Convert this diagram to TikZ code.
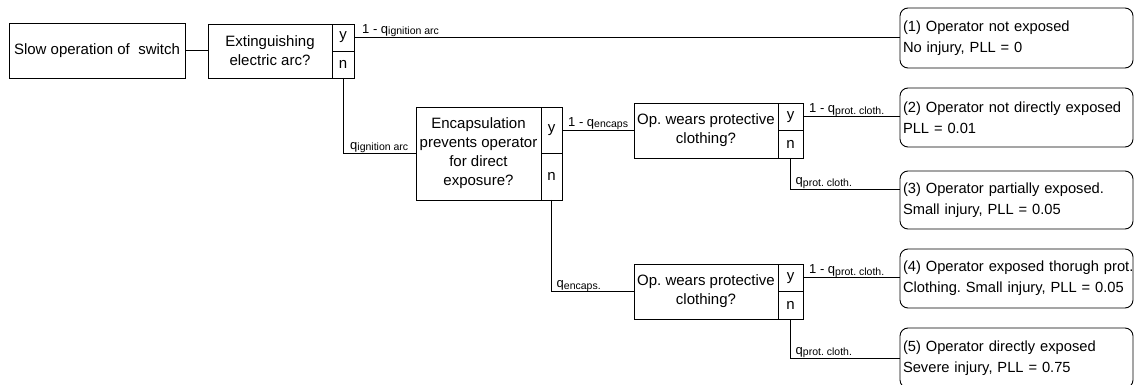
\documentclass[tikz,border=0pt]{standalone}
\usepackage{fontspec}
\setmainfont{Liberation Sans}
\frenchspacing
\newcommand{\qsub}[1]{q\raisebox{-1.5pt}{\fontsize{10.5}{12}\selectfont #1}}
\begin{document}
\begin{tikzpicture}[x=1pt, y=-1pt,
  cell/.style={draw, line width=0.9pt, inner sep=0pt, outer sep=0pt,
    anchor=north west, align=center, font=\fontsize{15}{19}\selectfont},
  outcome/.style={draw, line width=0.9pt, rounded corners=8pt, outer sep=0pt,
    anchor=north west, inner xsep=3pt, inner ysep=0pt, text width=227pt,
    minimum width=233pt, align=left, font=\fontsize{14.7}{21}\selectfont},
  wire/.style={line width=0.9pt},
  lbl/.style={anchor=base west, inner sep=0pt, font=\fontsize{13}{14}\selectfont}]
\useasboundingbox (0,0) rectangle (1136,385);

% start event
\node[cell, minimum width=176, minimum height=55] (slow) at (9,23) {Slow operation of\ \ switch};

% question 1: arc extinguished?
\node[cell, minimum width=124, minimum height=54] (extq) at (208,24) {Extinguishing\\electric arc?};
\node[cell, minimum width=22, minimum height=27] (exty) at (332,24) {y};
\node[cell, minimum width=22, minimum height=27] (extn) at (332,51) {n};

% question 2: encapsulation
\node[cell, minimum width=125, minimum height=93] (encq) at (416,107) {Encapsulation\\prevents operator\\for direct\\exposure?};
\node[cell, minimum width=21, minimum height=46.5] (ency) at (541,107) {y};
\node[cell, minimum width=21, minimum height=46.5] (encn) at (541,153.5) {n};

% question 3a: protective clothing (encapsulation works)
\node[cell, minimum width=144, minimum height=55] (op1q) at (634,103) {Op. wears protective\\clothing?};
\node[cell, minimum width=25, minimum height=27.5] (op1y) at (778,103) {y};
\node[cell, minimum width=25, minimum height=27.5] (op1n) at (778,130.5) {n};

% question 3b: protective clothing (encapsulation fails)
\node[cell, minimum width=144, minimum height=55] (op2q) at (634,264) {Op. wears protective\\clothing?};
\node[cell, minimum width=25, minimum height=27.5] (op2y) at (778,264) {y};
\node[cell, minimum width=25, minimum height=27.5] (op2n) at (778,291.5) {n};

% outcomes (lines kept unbroken)
\node[outcome, minimum height=60] (o1) at (900,8) {\mbox{(1) Operator not exposed}\\\mbox{No injury, PLL = 0}};
\node[outcome, minimum height=59] (o2) at (900,88) {\mbox{(2) Operator not directly exposed}\\\mbox{PLL = 0.01}};
\node[outcome, minimum height=58] (o3) at (900,171) {\mbox{(3) Operator partially exposed.}\\\mbox{Small injury, PLL = 0.05}};
\node[outcome, minimum height=59] (o4) at (900,249) {\mbox{(4) Operator exposed thorugh prot.}\\\mbox{Clothing. Small injury, PLL = 0.05}};
\node[outcome, minimum height=60] (o5) at (900,328) {\mbox{(5) Operator directly exposed}\\\mbox{Severe injury, PLL = 0.75}};

% branches
\draw[wire] (slow.east) -- (slow.east -| extq.west);
\draw[wire] (exty.east) -- (exty.east -| o1.west);
\draw[wire] (extn.south) |- (encq.west);
\draw[wire] (ency.east) -- (ency.east -| op1q.west);
\draw[wire] (encn.south) |- (op2q.west);
\draw[wire] (op1y.east) -- (op1y.east -| o2.west);
\draw[wire] (op1n.south) |- ([yshift=11pt]o3.west);
\draw[wire] (op2y.east) -- (op2y.east -| o4.west);
\draw[wire] (op2n.south) |- (o5.west);

% branch probabilities
\node[lbl] (l1) at ([xshift=8pt, yshift=4pt]exty.east) {1 - \qsub{ignition arc}};
\node[lbl] (l2) at ([xshift=7pt, yshift=4pt]extn.south |- encq.west) {\qsub{ignition arc}};
\node[lbl] (l3) at ([xshift=6pt, yshift=4pt]ency.east) {1 - \qsub{encaps}};
\node[lbl] (l4) at ([xshift=5pt, yshift=4pt]encn.south |- op2q.west) {\qsub{encaps.}};
\node[lbl] (l5) at ([xshift=6pt, yshift=4pt]op1y.east) {1 - \qsub{prot. cloth.}};
\node[lbl] (l6) at ([xshift=5pt, yshift=15pt]op1n.south |- o3.west) {\qsub{prot. cloth.}};
\node[lbl] (l7) at ([xshift=6pt, yshift=4pt]op2y.east) {1 - \qsub{prot. cloth.}};
\node[lbl] (l8) at ([xshift=5pt, yshift=4pt]op2n.south |- o5.west) {\qsub{prot. cloth.}};
\end{tikzpicture}
\end{document}
